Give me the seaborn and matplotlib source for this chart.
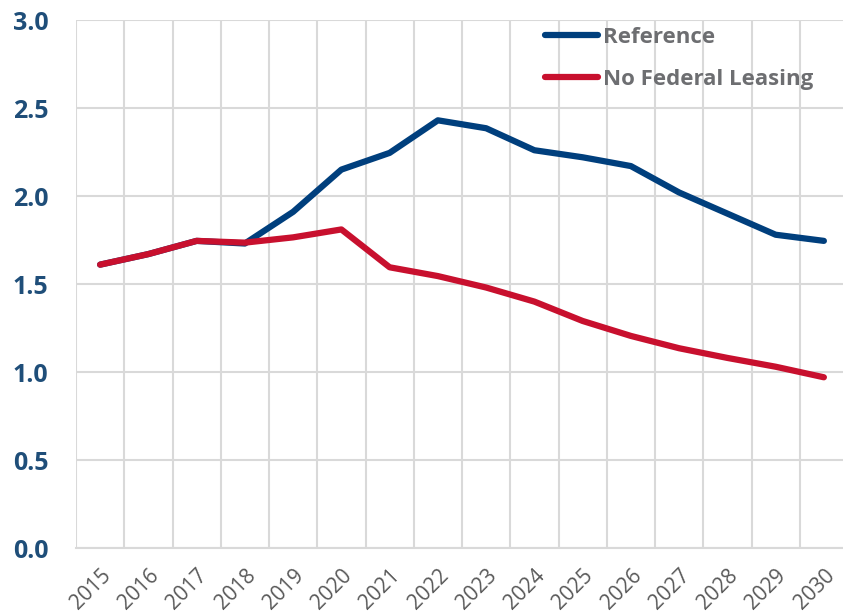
import pandas as pd
import seaborn as sns
import matplotlib.pyplot as plt
from matplotlib.lines import Line2D

# ----------------- Data -----------------
years = list(range(2015, 2031))
reference = [1.61, 1.67, 1.745, 1.73, 1.91, 2.15, 2.245, 2.43, 2.385, 2.26,
             2.22, 2.17, 2.02, 1.90, 1.78, 1.745]
no_federal_leasing = [1.61, 1.67, 1.745, 1.735, 1.765, 1.81, 1.595, 1.545, 1.48, 1.40,
                      1.29, 1.205, 1.135, 1.08, 1.03, 0.97]
series_names = ["Reference", "No Federal Leasing"]
colors = {"Reference": "#003F7D", "No Federal Leasing": "#C8102E"}

df = pd.DataFrame({
    "idx": list(range(len(years))) * 2,
    "value": reference + no_federal_leasing,
    "series": [series_names[0]] * len(years) + [series_names[1]] * len(years),
})

# ----------------- Plot -----------------
sns.set_style("white")
plt.rcParams["font.family"] = ["Open Sans", "DejaVu Sans"]

W, H = 843, 615
fig = plt.figure(figsize=(W / 100, H / 100), dpi=100)
ax = fig.add_axes([76 / W, (H - 548) / H, (848 - 76) / W, (548 - 20) / H])

sns.lineplot(data=df, x="idx", y="value", hue="series", hue_order=series_names,
             palette=colors, linewidth=4.5, ax=ax, legend=False,
             solid_capstyle="round", zorder=3)

ax.set_xlim(-0.5, len(years) - 0.5)
ax.set_ylim(0, 3.0)
ax.set_xlabel("")
ax.set_ylabel("")

# category labels at centres, gridlines at boundaries
ax.set_xticks(range(len(years)))
ax.set_xticklabels([str(y) for y in years], rotation=45, ha="right",
                   rotation_mode="anchor", fontsize=15, color="#595959")
ax.set_xticks([i - 0.5 for i in range(len(years) + 1)], minor=True)
ax.tick_params(axis="x", which="major", length=0, pad=12)
ax.tick_params(axis="x", which="minor", length=6, width=1.5, color="#D9D9D9")

ax.set_yticks([0, 0.5, 1.0, 1.5, 2.0, 2.5, 3.0])
ax.set_yticklabels([f"{v:.1f}" for v in ax.get_yticks()], fontsize=18,
                   fontweight="bold", color="#1F4E79")
ax.tick_params(axis="y", length=0, pad=20)

ax.grid(False)
ax.xaxis.grid(True, which="minor", color="#D9D9D9", linewidth=1.5)
ax.yaxis.grid(True, which="major", color="#D9D9D9", linewidth=1.5)
for side in ["top", "right", "left"]:
    ax.spines[side].set_visible(False)
ax.spines["bottom"].set_color("#D9D9D9")
ax.spines["bottom"].set_linewidth(1.5)

handles = [Line2D([0], [0], color=colors[n], linewidth=4.5, solid_capstyle="round")
           for n in series_names]
leg = ax.legend(handles, series_names, loc="upper left",
                bbox_to_anchor=(545 / W, (H - 27) / H), bbox_transform=fig.transFigure,
                frameon=False, fontsize=16, handlelength=2.4, handletextpad=0.2,
                labelspacing=0.95, borderpad=0, borderaxespad=0)
for t in leg.get_texts():
    t.set_color("#6D6E71")
    t.set_fontweight("bold")

fig.savefig("out.png", dpi=100)
